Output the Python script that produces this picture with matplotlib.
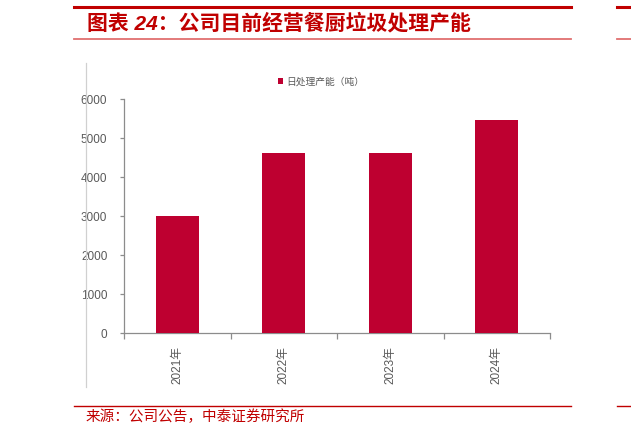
import matplotlib
matplotlib.use("Agg")
import matplotlib.pyplot as plt
from matplotlib.lines import Line2D
import numpy as np

categories = ["2021年", "2022年", "2023年", "2024年"]
values = [3000, 4630, 4630, 5470]
yticks = [0, 1000, 2000, 3000, 4000, 5000, 6000]
series_name = "日处理产能（吨）"
title = "图表 24：公司目前经营餐厨垃圾处理产能"
source = "来源：公司公告，中泰证券研究所"

W, H = 631, 434
fig = plt.figure(figsize=(W / 100, H / 100), dpi=100)
fam = ["Liberation Sans", "Noto Sans CJK SC", "DejaVu Sans"]
cjk = ["Noto Sans CJK SC", "DejaVu Sans"]

def fx(px):
    return px / W

def fy(py):
    return 1 - py / H

red = "#C00000"
light_red = "#E07070"
bar_color = "#BE0030"
grey = "#8C8C8C"

# header lines
fig.add_artist(Line2D([fx(74), fx(571)], [fy(6.5), fy(6.5)], color=red, lw=2.2))
fig.add_artist(Line2D([fx(617), fx(631)], [fy(6.5), fy(6.5)], color=red, lw=2.2))
fig.add_artist(Line2D([fx(74), fx(571)], [fy(39), fy(39)], color=light_red, lw=1.3))
fig.add_artist(Line2D([fx(617), fx(631)], [fy(39), fy(39)], color=light_red, lw=1.3))
fig.text(fx(87), fy(23.5), title, fontsize=15, fontweight="bold", color=red,
         family=fam, ha="left", va="center", fontstyle="italic")

# footer
fig.add_artist(Line2D([fx(74), fx(571)], [fy(406), fy(406)], color=red, lw=1.0))
fig.add_artist(Line2D([fx(617), fx(631)], [fy(406), fy(406)], color=red, lw=1.0))
fig.text(fx(86), fy(417), source, fontsize=10.5, color=red, family=cjk,
         ha="left", va="center")

# frame line of embedded chart
fig.add_artist(Line2D([fx(85.7), fx(85.7)], [fy(63), fy(387)], color="#D0D0D0", lw=0.9))

ax = fig.add_axes([fx(124), fy(333.3), fx(550) - fx(124), fy(99.3) - fy(333.3)])
x = np.arange(len(categories))
bars = ax.bar(x, values, width=0.4, color=bar_color, label=series_name, zorder=3)
ax.set_xlim(-0.5, len(categories) - 0.5)
ax.set_ylim(0, 6000)
ax.set_yticks(yticks)
ax.set_yticklabels([str(v) for v in yticks], fontsize=8.5, color="#595959", family=fam)
ax.set_xticks(np.arange(-0.5, len(categories), 1.0))
ax.set_xticklabels([])
ax.set_xticks(x, minor=True)
ax.set_xticklabels(categories, minor=True, rotation=90, fontsize=8.5,
                   color="#595959", family=fam, va="top")
ax.tick_params(axis="x", which="minor", length=0, pad=9)
ax.tick_params(axis="x", which="major", length=4, color=grey, width=0.9)
ax.tick_params(axis="y", length=3, color=grey, width=0.9, pad=9)
for s in ["top", "right"]:
    ax.spines[s].set_visible(False)
for s in ["left", "bottom"]:
    ax.spines[s].set_color(grey)
    ax.spines[s].set_linewidth(0.9)

leg = fig.legend(handles=[bars], labels=[series_name], loc="center",
                 bbox_to_anchor=(fx(321), fy(81.7)), frameon=False,
                 prop={"family": cjk, "size": 7}, handlelength=0.6, handleheight=0.6,
                 handletextpad=0.3, labelcolor="#595959")

fig.savefig("out.png", dpi=100, facecolor="white")
